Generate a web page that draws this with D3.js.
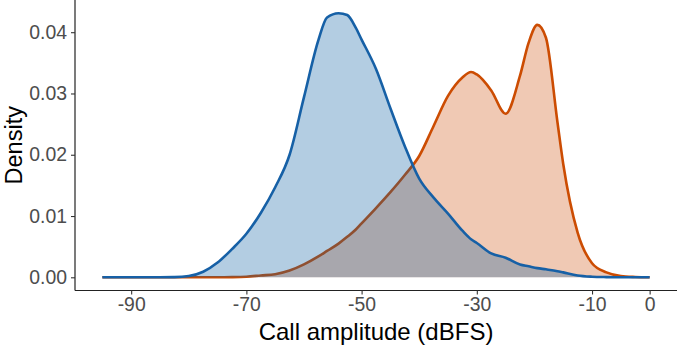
<!DOCTYPE html>
<html>
<head>
<meta charset="utf-8">
<script src="https://cdn.jsdelivr.net/npm/d3@7"></script>
<style>
  body { margin: 0; background: #fff; }
  svg { display: block; }
  .tick text { font-family: "Liberation Sans", Arial, sans-serif; font-size: 19.4px; fill: #4d4d4d; }
  .axisTitle { font-family: "Liberation Sans", Arial, sans-serif; font-size: 24px; fill: #000; }
</style>
</head>
<body>
<script>
//call amplitude grid (dBFS)
var amplitude = [-95, -92.5, -90, -87.5, -85, -82.5, -80, -77.5, -75, -72.5, -70, -67.5, -65, -62.5, -60, -57.5, -56, -54, -52.5, -51, -50, -47.5, -45, -42.5, -40, -37.5, -35, -32.5, -31, -30, -27.5, -25, -22.5, -21, -19.5, -18, -16, -15, -12.5, -10, -7.5, -5, -2.5, 0];

//density of the blue group
var blueDensity = [0, 0, 0, 0, 0.00001, 0.00003, 0.0002, 0.0009, 0.0024, 0.0046, 0.0071, 0.0105, 0.0147, 0.0200, 0.0294, 0.0387, 0.0424, 0.0431, 0.0428, 0.0407, 0.0388, 0.0340, 0.0276, 0.0214, 0.0161, 0.0130, 0.0104, 0.0076, 0.0062, 0.0056, 0.0039, 0.0032, 0.0021, 0.0018, 0.0015, 0.0013, 0.0010, 0.0008, 0.0003, 0.0001, 0.00003, 0, 0, 0];

//density of the orange group
var orangeDensity = [0, 0, 0, 0, 0, 0, 0, 0, 0.00001, 0.00003, 0.0001, 0.0003, 0.0005, 0.0011, 0.0021, 0.0034, 0.0043, 0.0055, 0.0066, 0.0078, 0.0088, 0.0113, 0.0139, 0.0167, 0.0198, 0.0247, 0.0296, 0.0326, 0.0335, 0.0331, 0.0305, 0.0267, 0.0329, 0.0383, 0.0412, 0.0391, 0.0253, 0.0185, 0.0073, 0.0023, 0.0008, 0.0002, 0.00005, 0];

var xTicks = [-90, -70, -50, -30, -10, 0];
var yTicks = [0, 0.01, 0.02, 0.03, 0.04];

window.onload = drawChart();

function drawChart(){
    var width = 677,
        height = 347;

    //panel edges
    var left = 75, right = 677, top = 0, bottom = 290.5;

    var svg = d3.select("body")
        .append("svg")
        .attr("width", width)
        .attr("height", height);

    //ggplot style 5% expansion
    var xMin = d3.min(amplitude), xMax = d3.max(amplitude);
    var xPad = (xMax - xMin) * 0.05;
    var x = d3.scaleLinear()
        .domain([xMin - xPad, xMax + xPad])
        .range([left, right]);

    var yMax = d3.max(blueDensity.concat(orangeDensity));
    var y = d3.scaleLinear()
        .domain([-yMax * 0.05, yMax * 1.05])
        .range([bottom, top]);

    var blue = amplitude.map(function(a, i){ return {x: a, y: blueDensity[i]}; }),
        orange = amplitude.map(function(a, i){ return {x: a, y: orangeDensity[i]}; });

    var area = d3.area()
        .x(function(d){ return x(d.x); })
        .y0(y(0))
        .y1(function(d){ return y(d.y); })
        .curve(d3.curveMonotoneX);

    var line = d3.line()
        .x(function(d){ return x(d.x); })
        .y(function(d){ return y(d.y); })
        .curve(d3.curveMonotoneX);

    //orange first, blue drawn over it
    svg.append("path").datum(orange)
        .attr("d", area)
        .attr("fill", "#cd4b05")
        .attr("fill-opacity", 0.3);
    svg.append("path").datum(orange)
        .attr("d", line)
        .attr("fill", "none")
        .attr("stroke", "#cc4c02")
        .attr("stroke-width", 2.6);

    svg.append("path").datum(blue)
        .attr("d", area)
        .attr("fill", "#04589f")
        .attr("fill-opacity", 0.3);
    svg.append("path").datum(blue)
        .attr("d", line)
        .attr("fill", "none")
        .attr("stroke", "#1660a6")
        .attr("stroke-width", 2.6);

    //axes
    var xAxis = svg.append("g")
        .attr("transform", "translate(0," + bottom + ")")
        .call(d3.axisBottom(x).tickValues(xTicks).tickFormat(d3.format("d")).tickSize(4).tickPadding(3));

    var yAxis = svg.append("g")
        .attr("transform", "translate(" + left + ",0)")
        .call(d3.axisLeft(y).tickValues(yTicks).tickFormat(d3.format(".2f")).tickSize(4).tickPadding(4));

    [xAxis, yAxis].forEach(function(g){
        g.select(".domain").attr("stroke", "#222").attr("stroke-width", 1.2);
        g.selectAll(".tick line").attr("stroke", "#333").attr("stroke-width", 1.1);
    });
    xAxis.select(".domain").attr("d", "M" + left + ",0H" + right);
    yAxis.select(".domain").attr("d", "M0," + top + "V" + bottom);
    xAxis.selectAll(".tick text").text(function(d){ return d3.format("d")(d).replace("−", "-"); });

    //axis titles
    svg.append("text")
        .attr("class", "axisTitle")
        .attr("x", (left + right) / 2)
        .attr("y", 340)
        .attr("text-anchor", "middle")
        .text("Call amplitude (dBFS)");

    svg.append("text")
        .attr("class", "axisTitle")
        .attr("transform", "translate(22," + (top + bottom) / 2 + ") rotate(-90)")
        .attr("text-anchor", "middle")
        .style("font-size", "23.5px")
        .text("Density");
};
</script>
</body>
</html>
